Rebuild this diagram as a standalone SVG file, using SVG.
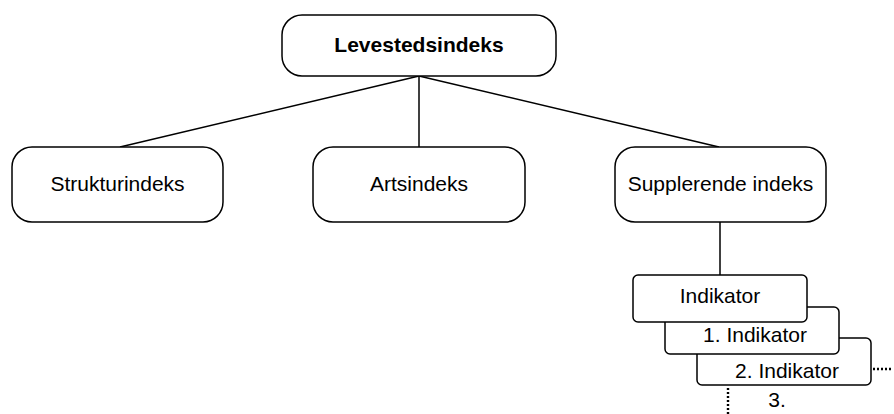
<svg xmlns="http://www.w3.org/2000/svg" width="894" height="414" viewBox="0 0 894 414">
<style>
.box{fill:#fff;stroke:#000;stroke-width:1.5}
.lbl{font-family:"Liberation Sans",Arial,sans-serif;font-size:21px;fill:#000;text-anchor:middle}
.bold{font-weight:bold}
.conn{stroke:#000;stroke-width:1.5;fill:none}
.dot{stroke:#000;stroke-width:2.4;fill:none;stroke-dasharray:2 2}
</style>
<rect width="894" height="414" fill="#fff"/>
<g id="connectors">
<line class="conn" x1="419" y1="76" x2="120" y2="147"/>
<line class="conn" x1="419" y1="76" x2="419" y2="147"/>
<line class="conn" x1="419" y1="76" x2="719" y2="147"/>
<line class="conn" x1="720" y1="222" x2="720" y2="275"/>
<line class="dot" x1="873" y1="369" x2="893" y2="369"/>
<line class="dot" x1="728" y1="388" x2="728" y2="414"/>
</g>
<g id="levestedsindeks">
<rect class="box" x="282" y="15" width="274" height="61" rx="20"/>
<text class="lbl bold" x="419" y="52">Levestedsindeks</text>
</g>
<g id="strukturindeks">
<rect class="box" x="12" y="147" width="211" height="75" rx="20"/>
<text class="lbl" x="117.5" y="191">Strukturindeks</text>
</g>
<g id="artsindeks">
<rect class="box" x="313" y="147" width="212" height="75" rx="20"/>
<text class="lbl" x="419" y="191">Artsindeks</text>
</g>
<g id="supplerende">
<rect class="box" x="615" y="147" width="211" height="75" rx="20"/>
<text class="lbl" x="720.5" y="191">Supplerende indeks</text>
</g>
<g id="indikator2">
<rect class="box" x="697" y="338" width="174" height="47" rx="5"/>
<text class="lbl" x="787" y="378">2. Indikator</text>
</g>
<g id="indikator1">
<rect class="box" x="665" y="307" width="174" height="47" rx="5"/>
<text class="lbl" x="755" y="342">1. Indikator</text>
</g>
<g id="indikator">
<rect class="box" x="633" y="275" width="174" height="47" rx="5"/>
<text class="lbl" x="720" y="303">Indikator</text>
</g>
<g id="indikator3">
<text class="lbl" x="777" y="407">3.</text>
</g>
</svg>
